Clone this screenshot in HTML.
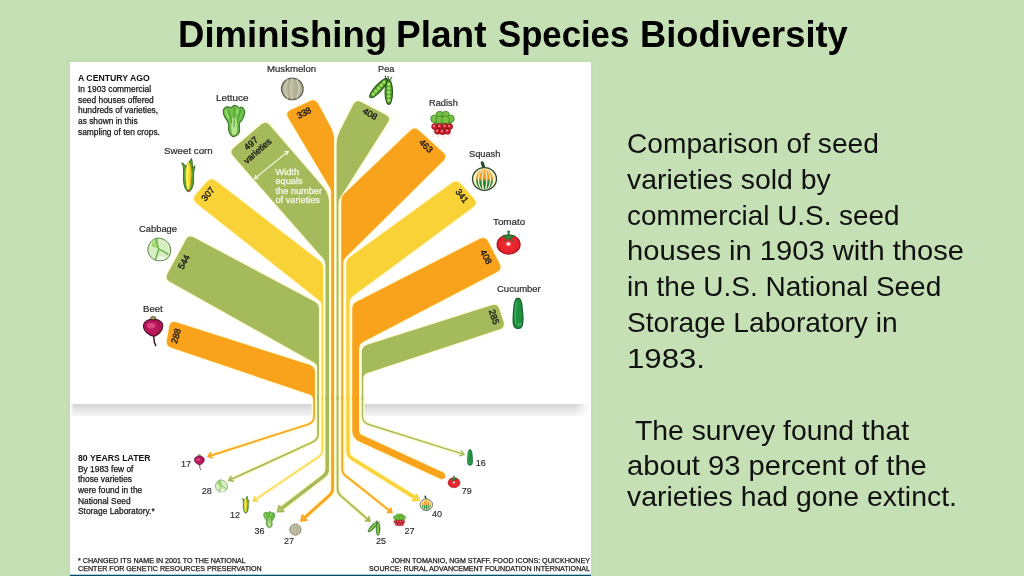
<!DOCTYPE html>
<html lang="en"><head><meta charset="utf-8"><title>Diminishing Plant Species Biodiversity</title>
<style>
html,body{margin:0;padding:0;}
body{width:1024px;height:576px;overflow:hidden;background:#C5E0B4;font-family:"Liberation Sans",sans-serif;}
#slide{position:relative;width:1024px;height:576px;overflow:hidden;background:#C5E0B4;}
#title{position:absolute;left:0;top:0;width:1024px;margin:0;font-size:36px;line-height:36px;font-weight:bold;color:#000;white-space:nowrap;}
#title span{position:absolute;top:17px;transform-origin:0 0;display:inline-block;}
#panel{position:absolute;left:70px;top:62px;width:521px;height:514px;background:#fff;box-shadow:0 0 0 4px #c1dfb0;}
#horizon{position:absolute;left:70px;top:403.6px;width:521px;height:12px;background:linear-gradient(to right,#fff 0,rgba(255,255,255,0) 0.8%,rgba(255,255,255,0) 96.8%,rgba(255,255,255,.75) 98.8%,#fff 100%),linear-gradient(to bottom,#d4d4d4 0%,#d6d6d6 8%,#e2e2e2 40%,#eeeeee 75%,#f5f5f8 100%);}
#baseline{position:absolute;left:70px;top:574px;width:521px;height:2px;background:linear-gradient(to bottom,#9fd0e0 0,#9fd0e0 1px,#0b4a5a 1px,#0b4a5a 2px);}
#chart{position:absolute;left:0;top:0;}
.t{position:absolute;white-space:nowrap;color:#222;line-height:1;}
.lab{font-size:8.8px;color:#2a2a2a;-webkit-text-stroke:0.2px #333;}
.num{font-size:9px;color:#111;-webkit-text-stroke:0.35px #1a1a1a;}
.body{font-size:8.4px;line-height:10.7px;color:#111;-webkit-text-stroke:0.25px #222;}
.hd{font-weight:bold;font-size:8.7px;color:#111;}
.foot{font-size:7.13px;line-height:8px;color:#1a1a1a;-webkit-text-stroke:0.25px #222;}
.rt{position:absolute;font-size:28.5px;line-height:28.5px;color:#111;white-space:pre;transform-origin:0 0;}
.sm{font-size:9px;color:#2a2a2a;-webkit-text-stroke:0.15px #333;}
.wid{font-size:9.2px;line-height:9.5px;color:#F8F9EA;-webkit-text-stroke:0.25px #F8F9EA;}

</style></head>
<body>
<div id="slide">
<h1 id="title"><span style="left:177.6px;transform:scaleX(1.0149);">Diminishing</span> <span style="left:396.2px;transform:scaleX(1.0279);">Plant</span> <span style="left:498.4px;transform:scaleX(0.9639);">Species</span> <span style="left:639.9px;transform:scaleX(1.0083);">Biodiversity</span></h1>
<div id="panel"></div>
<div id="horizon"></div>
<svg id="chart" width="1024" height="576" viewBox="0 0 1024 576">
<path d="M176.22 322.32 L309.33 364.81 Q314.90 366.58 314.90 372.43 L314.90 400.00 L313.20 400.00 L313.20 400.00 Q313.20 395.69 309.12 394.31 L171.48 347.72 Q165.80 345.80 166.90 339.90 L169.40 326.40 Q170.50 320.50 176.22 322.32 Z" fill="none" stroke="#FFFAD2" stroke-width="2.4" stroke-linejoin="round"/>
<path d="M193.90 237.52 L314.76 301.78 Q319.00 304.03 319.00 308.84 L319.00 400.00 L317.20 400.00 L317.20 367.84 Q317.20 364.32 314.14 362.60 L170.03 281.74 Q164.80 278.80 167.65 273.52 L185.75 239.98 Q188.60 234.70 193.90 237.52 Z" fill="none" stroke="#FFFAD2" stroke-width="2.4" stroke-linejoin="round"/>
<path d="M215.55 180.86 L319.88 261.20 Q323.00 263.61 323.00 267.54 L323.00 400.00 L321.70 400.00 L321.70 305.26 Q321.70 302.36 319.43 300.56 L196.50 203.13 Q191.80 199.40 195.70 194.84 L206.90 181.76 Q210.80 177.20 215.55 180.86 Z" fill="none" stroke="#FFFAD2" stroke-width="2.4" stroke-linejoin="round"/>
<path d="M269.72 125.14 L323.17 187.06 Q329.00 193.82 329.00 202.74 L329.00 400.00 L325.50 400.00 L325.50 264.87 Q325.50 261.10 323.01 258.27 L233.26 156.11 Q229.30 151.60 233.87 147.72 L261.23 124.48 Q265.80 120.60 269.72 125.14 Z" fill="none" stroke="#FFFAD2" stroke-width="2.4" stroke-linejoin="round"/>
<path d="M318.06 103.87 L330.61 126.98 Q334.00 133.23 334.00 140.34 L334.00 400.00 L331.20 400.00 L331.20 192.52 Q331.20 189.77 329.79 187.40 L288.27 117.75 Q285.20 112.60 290.64 110.06 L309.76 101.14 Q315.20 98.60 318.06 103.87 Z" fill="none" stroke="#FFFAD2" stroke-width="2.4" stroke-linejoin="round"/>
<path d="M353.28 104.75 L339.65 131.49 Q336.60 137.47 336.60 144.20 L336.60 400.00 L338.50 400.00 L338.50 203.13 Q338.50 200.23 340.06 197.77 L387.79 122.57 Q391.00 117.50 385.67 114.74 L361.33 102.16 Q356.00 99.40 353.28 104.75 Z" fill="none" stroke="#FFFAD2" stroke-width="2.4" stroke-linejoin="round"/>
<path d="M410.17 130.65 L343.76 194.33 Q341.30 196.70 341.30 200.11 L341.30 400.00 L343.10 400.00 L343.10 263.15 Q343.10 259.81 345.47 257.46 L443.24 160.72 Q447.50 156.50 443.06 152.46 L418.94 130.54 Q414.50 126.50 410.17 130.65 Z" fill="none" stroke="#FFFAD2" stroke-width="2.4" stroke-linejoin="round"/>
<path d="M451.95 183.03 L349.60 257.39 Q346.30 259.78 346.30 263.86 L346.30 400.00 L349.60 400.00 L349.60 302.54 Q349.60 298.51 352.84 296.11 L473.18 207.07 Q478.00 203.50 474.03 199.00 L460.77 184.00 Q456.80 179.50 451.95 183.03 Z" fill="none" stroke="#FFFAD2" stroke-width="2.4" stroke-linejoin="round"/>
<path d="M479.95 238.82 L356.62 301.67 Q352.25 303.89 352.25 308.79 L352.25 400.00 L359.00 400.00 L359.00 348.96 Q359.00 344.12 363.29 341.87 L496.98 271.98 Q502.30 269.20 499.56 263.86 L488.04 241.44 Q485.30 236.10 479.95 238.82 Z" fill="none" stroke="#FFFAD2" stroke-width="2.4" stroke-linejoin="round"/>
<path d="M491.68 305.31 L367.38 344.74 Q361.80 346.51 361.80 352.37 L361.80 400.00 L363.20 400.00 L363.20 378.60 Q363.20 374.25 367.33 372.90 L499.70 329.37 Q505.40 327.50 503.50 321.81 L499.30 309.19 Q497.40 303.50 491.68 305.31 Z" fill="none" stroke="#FFFAD2" stroke-width="2.4" stroke-linejoin="round"/>
<path d="M314.05 396.00 L314.05 415.93 Q314.05 422.50 307.79 424.50 L209.11 456.09" fill="none" stroke="#FFFAD2" stroke-width="4.70"/>
<path d="M318.10 396.00 L318.10 433.82 Q318.10 439.60 312.84 442.00 L229.73 480.00" fill="none" stroke="#FFFAD2" stroke-width="4.80"/>
<path d="M322.35 396.00 L322.35 449.52 Q322.35 454.30 318.39 456.98 L254.24 500.32" fill="none" stroke="#FFFAD2" stroke-width="4.30"/>
<path d="M327.25 396.00 L327.25 469.05 Q327.25 473.50 323.72 476.20 L280.22 509.46" fill="none" stroke="#FFFAD2" stroke-width="6.50"/>
<path d="M332.60 396.00 L332.60 488.57 Q332.60 492.60 329.60 495.28 L303.73 518.42" fill="none" stroke="#FFFAD2" stroke-width="5.80"/>
<path d="M337.55 396.00 L337.55 488.82 Q337.55 492.90 340.62 495.59 L369.00 520.43" fill="none" stroke="#FFFAD2" stroke-width="4.90"/>
<path d="M342.20 396.00 L342.20 468.66 Q342.20 473.00 345.60 475.70 L390.93 511.76" fill="none" stroke="#FFFAD2" stroke-width="4.80"/>
<path d="M347.95 396.00 L347.95 451.00 Q347.95 456.00 352.20 458.64 L415.95 498.26" fill="none" stroke="#FFFAD2" stroke-width="6.30"/>
<path d="M355.62 396.00 L355.62 430.24 Q355.62 436.00 360.86 438.41 L443.37 476.39" fill="none" stroke="#FFFAD2" stroke-width="9.75"/>
<path d="M362.50 396.00 L362.50 415.90 Q362.50 422.50 368.80 424.48 L463.01 454.11" fill="none" stroke="#FFFAD2" stroke-width="4.40"/>
<path d="M176.22 322.32 L309.33 364.81 Q314.90 366.58 314.90 372.43 L314.90 400.00 L313.20 400.00 L313.20 400.00 Q313.20 395.69 309.12 394.31 L171.48 347.72 Q165.80 345.80 166.90 339.90 L169.40 326.40 Q170.50 320.50 176.22 322.32 Z" fill="#F9A21C"/>
<path d="M193.90 237.52 L314.76 301.78 Q319.00 304.03 319.00 308.84 L319.00 400.00 L317.20 400.00 L317.20 367.84 Q317.20 364.32 314.14 362.60 L170.03 281.74 Q164.80 278.80 167.65 273.52 L185.75 239.98 Q188.60 234.70 193.90 237.52 Z" fill="#A5BA5B"/>
<path d="M215.55 180.86 L319.88 261.20 Q323.00 263.61 323.00 267.54 L323.00 400.00 L321.70 400.00 L321.70 305.26 Q321.70 302.36 319.43 300.56 L196.50 203.13 Q191.80 199.40 195.70 194.84 L206.90 181.76 Q210.80 177.20 215.55 180.86 Z" fill="#F8D237"/>
<path d="M269.72 125.14 L323.17 187.06 Q329.00 193.82 329.00 202.74 L329.00 400.00 L325.50 400.00 L325.50 264.87 Q325.50 261.10 323.01 258.27 L233.26 156.11 Q229.30 151.60 233.87 147.72 L261.23 124.48 Q265.80 120.60 269.72 125.14 Z" fill="#A5BA5B"/>
<path d="M318.06 103.87 L330.61 126.98 Q334.00 133.23 334.00 140.34 L334.00 400.00 L331.20 400.00 L331.20 192.52 Q331.20 189.77 329.79 187.40 L288.27 117.75 Q285.20 112.60 290.64 110.06 L309.76 101.14 Q315.20 98.60 318.06 103.87 Z" fill="#F9A21C"/>
<path d="M353.28 104.75 L339.65 131.49 Q336.60 137.47 336.60 144.20 L336.60 400.00 L338.50 400.00 L338.50 203.13 Q338.50 200.23 340.06 197.77 L387.79 122.57 Q391.00 117.50 385.67 114.74 L361.33 102.16 Q356.00 99.40 353.28 104.75 Z" fill="#A5BA5B"/>
<path d="M410.17 130.65 L343.76 194.33 Q341.30 196.70 341.30 200.11 L341.30 400.00 L343.10 400.00 L343.10 263.15 Q343.10 259.81 345.47 257.46 L443.24 160.72 Q447.50 156.50 443.06 152.46 L418.94 130.54 Q414.50 126.50 410.17 130.65 Z" fill="#F9A21C"/>
<path d="M451.95 183.03 L349.60 257.39 Q346.30 259.78 346.30 263.86 L346.30 400.00 L349.60 400.00 L349.60 302.54 Q349.60 298.51 352.84 296.11 L473.18 207.07 Q478.00 203.50 474.03 199.00 L460.77 184.00 Q456.80 179.50 451.95 183.03 Z" fill="#F8D237"/>
<path d="M479.95 238.82 L356.62 301.67 Q352.25 303.89 352.25 308.79 L352.25 400.00 L359.00 400.00 L359.00 348.96 Q359.00 344.12 363.29 341.87 L496.98 271.98 Q502.30 269.20 499.56 263.86 L488.04 241.44 Q485.30 236.10 479.95 238.82 Z" fill="#F9A21C"/>
<path d="M491.68 305.31 L367.38 344.74 Q361.80 346.51 361.80 352.37 L361.80 400.00 L363.20 400.00 L363.20 378.60 Q363.20 374.25 367.33 372.90 L499.70 329.37 Q505.40 327.50 503.50 321.81 L499.30 309.19 Q497.40 303.50 491.68 305.31 Z" fill="#A5BA5B"/>
<path d="M314.05 396.00 L314.05 415.93 Q314.05 422.50 307.79 424.50 L209.11 456.09" fill="none" stroke="#F9A21C" stroke-width="1.70"/>
<path d="M212.90 457.96 L208.15 456.39 L211.11 452.36" fill="none" stroke="#F9A21C" stroke-width="1.70" stroke-linejoin="miter" stroke-miterlimit="6"/>
<path d="M318.10 396.00 L318.10 433.82 Q318.10 439.60 312.84 442.00 L229.73 480.00" fill="none" stroke="#A5BA5B" stroke-width="1.80"/>
<path d="M233.72 481.41 L228.82 480.42 L231.28 476.06" fill="none" stroke="#A5BA5B" stroke-width="1.80" stroke-linejoin="miter" stroke-miterlimit="6"/>
<path d="M322.35 396.00 L322.35 449.52 Q322.35 454.30 318.39 456.98 L254.24 500.32" fill="none" stroke="#F8D237" stroke-width="1.30"/>
<path d="M258.40 501.05 L253.41 500.88 L255.11 496.18" fill="none" stroke="#F8D237" stroke-width="1.50" stroke-linejoin="miter" stroke-miterlimit="6"/>
<path d="M327.25 396.00 L327.25 469.05 Q327.25 473.50 323.72 476.20 L280.22 509.46" fill="none" stroke="#A5BA5B" stroke-width="3.50"/>
<path d="M284.34 511.13 L277.84 511.29 L279.70 505.06" fill="none" stroke="#A5BA5B" stroke-width="2.30" stroke-linejoin="miter" stroke-miterlimit="6"/>
<path d="M332.60 396.00 L332.60 488.57 Q332.60 492.60 329.60 495.28 L303.73 518.42" fill="none" stroke="#F9A21C" stroke-width="2.80"/>
<path d="M307.46 519.81 L301.49 520.42 L302.76 514.55" fill="none" stroke="#F9A21C" stroke-width="2.30" stroke-linejoin="miter" stroke-miterlimit="6"/>
<path d="M337.55 396.00 L337.55 488.82 Q337.55 492.90 340.62 495.59 L369.00 520.43" fill="none" stroke="#A5BA5B" stroke-width="1.90"/>
<path d="M368.64 516.22 L369.75 521.09 L364.77 520.64" fill="none" stroke="#A5BA5B" stroke-width="1.90" stroke-linejoin="miter" stroke-miterlimit="6"/>
<path d="M342.20 396.00 L342.20 468.66 Q342.20 473.00 345.60 475.70 L390.93 511.76" fill="none" stroke="#F9A21C" stroke-width="1.80"/>
<path d="M390.38 507.56 L391.72 512.38 L386.72 512.16" fill="none" stroke="#F9A21C" stroke-width="1.80" stroke-linejoin="miter" stroke-miterlimit="6"/>
<path d="M347.95 396.00 L347.95 451.00 Q347.95 456.00 352.20 458.64 L415.95 498.26" fill="none" stroke="#F8D237" stroke-width="3.30"/>
<path d="M416.05 493.82 L418.50 499.84 L412.01 500.31" fill="none" stroke="#F8D237" stroke-width="2.30" stroke-linejoin="miter" stroke-miterlimit="6"/>
<path d="M355.62 396.00 L355.62 430.24 Q355.62 436.00 360.86 438.41 L443.37 476.39" fill="none" stroke="#F9A21C" stroke-width="6.75"/>
<path d="M444.70 473.17 L445.55 477.39 L441.80 479.49 Z" fill="#F9A21C"/>
<path d="M362.50 396.00 L362.50 415.90 Q362.50 422.50 368.80 424.48 L463.01 454.11" fill="none" stroke="#A5BA5B" stroke-width="1.40"/>
<path d="M460.99 450.39 L463.96 454.41 L459.22 456.00" fill="none" stroke="#A5BA5B" stroke-width="1.50" stroke-linejoin="miter" stroke-miterlimit="6"/>
<g transform="translate(292.30 88.90) scale(1.000)"><circle r="10.8" fill="#B8B69B" stroke="#5F6552" stroke-width="1.3"/><path d="M-4.5 -9.5C-7.5 -3 -7.5 4 -4.5 9.5M0 -10.5C-1.5 -3 -1.5 4 0 10.5M4.5 -9.5C7.5 -3 7.5 4 4.5 9.5" fill="none" stroke="#C9C7AF" stroke-width="1.6"/><path d="M-2.3 -10C-4.6 -3 -4.6 4 -2.3 10M2.3 -10C4.6 -3 4.6 4 2.3 10" fill="none" stroke="#A9A78E" stroke-width=".8"/></g>
<g transform="translate(233.80 121.00) scale(1.000)"><path d="M-10.40 -9.20C-10.40 -11.77 -10.90 -11.07 -9.40 -12.70C-7.90 -14.33 -8.10 -13.90 -5.90 -14.10C-3.70 -14.30 -4.87 -12.87 -2.80 -13.30C-0.73 -13.73 -1.67 -14.92 0.30 -15.40C2.27 -15.88 1.47 -15.55 3.10 -14.75C4.73 -13.95 3.57 -13.35 5.20 -13.00C6.83 -12.65 6.27 -14.50 8.00 -13.70C9.73 -12.90 9.60 -13.03 10.40 -10.60C11.20 -8.17 11.20 -9.63 10.40 -6.40C9.60 -3.17 9.50 -3.67 8.00 -0.90C6.50 1.87 6.73 -0.67 5.90 1.90C5.07 4.47 5.73 3.57 5.50 6.80C5.27 10.03 6.70 8.83 5.20 11.60C3.70 14.37 3.53 14.17 1.00 15.10C-1.53 16.03 -0.43 16.23 -2.40 14.40C-4.37 12.57 -3.97 13.07 -4.90 9.60C-5.83 6.13 -4.63 7.27 -5.20 4.00C-5.77 0.73 -5.20 2.80 -6.60 -0.20C-8.00 -3.20 -8.13 -2.00 -9.40 -5.00C-10.67 -8.00 -10.40 -6.63 -10.40 -9.20Z" fill="#6EC24A" stroke="#3A7526" stroke-width="1.2" stroke-linejoin="round"/><path d="M-1.8 -2C-2.6 3 -3 9 -1.6 13C-.6 14.2 1.6 14.2 2.6 12.8C3.8 9 3.2 3 2.6 -2C1.6 -5 -.8 -5 -1.8 -2Z" fill="#B7E28E"/><path d="M1.2 -13C0 -8 .4 -3 .4 6M-5.8 -11.5C-4.4 -7 -2.8 -4 -2.2 2M7 -11.5C5.6 -7 4.2 -3 3.6 2" fill="none" stroke="#46932D" stroke-width=".9"/><path d="M-7.6 -11C-8 -8 -6.4 -5 -4.8 -2M4.2 -13C3.4 -11 3 -9 3 -7" fill="none" stroke="#A5DE78" stroke-width="1.4"/></g>
<g transform="translate(188.50 175.30) scale(1.000)"><path d="M-.5 16.3C-4.5 14 -5.5 6 -5 -2C-5 -6 -4.5 -9 -6.8 -12.5C-4 -11.5 -3 -9.5 -2.5 -8C-1 -12 1.5 -14.5 3 -16.7C4 -13 3.8 -10 4 -7C4.8 -8 5.6 -9 6.5 -9.5C6 -6 5 -4 5 0C5.5 7 4.5 14 .8 16.3Z" fill="#5CA42E" stroke="#2F5F1C" stroke-width=".9"/><path d="M0 -13.5C3.6 -9 3.6 2 1.2 13C.2 14.6 -1 14.6 -1.6 13C-3.6 2 -3.6 -8 0 -13.5Z" fill="#F3E02A"/><path d="M-.6 -10C-1.8 -3 -1.6 5 -.4 12" fill="none" stroke="#FBF29A" stroke-width="1.3"/><path d="M1.2 13C2.6 5 3 -3 1.5 -11" fill="none" stroke="#C9A91A" stroke-width=".7"/><ellipse cx="0" cy="15.6" rx="1.6" ry="1" fill="#B5523A"/></g>
<g transform="translate(159.30 249.50) scale(1.000)"><path d="M-2.5 -11.3C2 -11.8 7.5 -9.5 10 -5C12.3 -.5 11.8 5 8.5 8.5C5 11.5 -1 12 -5.5 10C-9.5 7.5 -12 3 -11.3 -1.5C-10.5 -6 -7 -10.5 -2.5 -11.3Z" fill="#D8EEC2" stroke="#557F3E" stroke-width="1.0"/><path d="M-2.6 -11C-6 -9.5 -8 -6 -7.5 -3C-5 -2.5 -2.5 -1.5 -.6 -.4C-1.5 -4 -2.3 -7.5 -2.6 -11Z" fill="#9FD672"/><path d="M-3.3 9.5C-1 6 3.5 5.5 7 8.8C4 11 -.5 11.3 -3.3 9.5Z" fill="#EEF8E2"/><path d="M-2.8 -11C-2.2 -6.5 -1.6 -3 -.5 -.4C3 1 6 2.6 8.6 4.8M-.5 -.4C-1.4 3 -2.8 6.2 -3.6 9.6" fill="none" stroke="#6AAE48" stroke-width="1.4" stroke-linecap="round"/></g>
<g transform="translate(153.20 328.00) scale(1.000)"><path d="M.6 7.8C.9 11.5 .4 14.5 2.6 17.6" fill="none" stroke="#3B0F22" stroke-width="1.4" stroke-linecap="round"/><ellipse cx="0" cy="-9.3" rx="2.8" ry="2.3" fill="#8E9C5C" stroke="#4E5A2C" stroke-width=".8"/><path d="M0 -8C4 -9.2 9.8 -7 9.6 -1.5C9.4 3.5 4 7.6 .5 8.3C-3.5 7.6 -9.5 3.5 -9.7 -1.5C-9.8 -7 -4 -9.2 0 -8Z" fill="#B8175A" stroke="#4A0E28" stroke-width="1.1"/><ellipse cx="-2" cy="-2.2" rx="4.2" ry="2.8" fill="#E4558B" opacity=".75"/><path d="M4 -6.5C7.5 -4 8 1 4.5 5" fill="none" stroke="#8E1243" stroke-width="1.3" opacity=".7"/></g>
<g transform="translate(387.90 79.50) scale(1.000)"><g transform="translate(-9.3 8.7) rotate(42.7)"><ellipse rx="3.5" ry="12.6" fill="#4F9A2C" stroke="#27551A" stroke-width="1.1"/><circle cx="0" cy="-8.0" r="1.7" fill="#A0DC5E"/><circle cx="0" cy="-4.0" r="1.7" fill="#A0DC5E"/><circle cx="0" cy="0.0" r="1.7" fill="#A0DC5E"/><circle cx="0" cy="4.0" r="1.7" fill="#A0DC5E"/><circle cx="0" cy="8.0" r="1.7" fill="#A0DC5E"/></g><g transform="translate(.9 12.7)"><ellipse rx="3.7" ry="12.3" fill="#4F9A2C" stroke="#27551A" stroke-width="1.1"/><circle cx="0" cy="-8.0" r="1.7" fill="#A0DC5E"/><circle cx="0" cy="-4.0" r="1.7" fill="#A0DC5E"/><circle cx="0" cy="0.0" r="1.7" fill="#A0DC5E"/><circle cx="0" cy="4.0" r="1.7" fill="#A0DC5E"/><circle cx="0" cy="8.0" r="1.7" fill="#A0DC5E"/></g><path d="M-1.5 0L-2.8 -4M.5 0L.2 -3.5M2 .5L4.2 -2.6" fill="none" stroke="#1F3F16" stroke-width="1"/></g>
<g transform="translate(442.50 124.00) scale(1.000)"><path d="M-8 4L-10 13M-3 8L-4 14M2 9L2.5 14.5M7 5L9.5 12M5 8L7 13" fill="none" stroke="#F3C9CC" stroke-width=".7"/><rect x="-9" y="-6" width="18" height="7" fill="#6DBB3E"/><circle cx="-2.9" cy="-9.0" r="3.7" fill="#77C243" stroke="#3F7F2A" stroke-width=".8"/><circle cx="3.2" cy="-9.0" r="3.7" fill="#77C243" stroke="#3F7F2A" stroke-width=".8"/><circle cx="-8.0" cy="-5.2" r="3.8" fill="#77C243" stroke="#3F7F2A" stroke-width=".8"/><circle cx="8.0" cy="-5.2" r="3.8" fill="#77C243" stroke="#3F7F2A" stroke-width=".8"/><circle cx="-2.7" cy="-4.2" r="3.9" fill="#77C243" stroke="#3F7F2A" stroke-width=".8"/><circle cx="3.0" cy="-4.2" r="3.9" fill="#77C243" stroke="#3F7F2A" stroke-width=".8"/><circle cx="-7.9" cy="2.6" r="2.9" fill="#D71E2C" stroke="#7E0F17" stroke-width=".8"/><circle cx="-8.5" cy="1.9" r="1" fill="#F79A9A"/><circle cx="-2.6" cy="2.4" r="2.9" fill="#D71E2C" stroke="#7E0F17" stroke-width=".8"/><circle cx="-3.2" cy="1.7" r="1" fill="#F79A9A"/><circle cx="2.6" cy="2.4" r="2.9" fill="#D71E2C" stroke="#7E0F17" stroke-width=".8"/><circle cx="2.0" cy="1.7" r="1" fill="#F79A9A"/><circle cx="7.2" cy="2.6" r="2.9" fill="#D71E2C" stroke="#7E0F17" stroke-width=".8"/><circle cx="6.6" cy="1.9" r="1" fill="#F79A9A"/><circle cx="-5.0" cy="7.3" r="2.9" fill="#D71E2C" stroke="#7E0F17" stroke-width=".8"/><circle cx="-5.6" cy="6.6" r="1" fill="#F79A9A"/><circle cx="0.0" cy="7.8" r="2.9" fill="#D71E2C" stroke="#7E0F17" stroke-width=".8"/><circle cx="-0.6" cy="7.1" r="1" fill="#F79A9A"/><circle cx="5.0" cy="7.3" r="2.9" fill="#D71E2C" stroke="#7E0F17" stroke-width=".8"/><circle cx="4.4" cy="6.6" r="1" fill="#F79A9A"/></g>
<g transform="translate(484.50 179.00) scale(1.000)"><path d="M-.3 -9.5C-.8 -12.5 -1.6 -14.5 -2.3 -16.3" fill="none" stroke="#1F4D2B" stroke-width="3" stroke-linecap="round"/><linearGradient id="sqa" x1="0" y1="0" x2="0" y2="1"><stop offset="0" stop-color="#F6A02A"/><stop offset=".45" stop-color="#F59A23"/><stop offset=".62" stop-color="#1E8A45"/><stop offset="1" stop-color="#176B35"/></linearGradient><ellipse rx="12" ry="11.3" fill="#F7F0C4"/><path d="M-2.3 -10.5C-10.4 -4 -10.4 5 -3.2 11C-8.0 5 -8.0 -4 -2.3 -10.5Z" fill="url(#sqa)"/><path d="M-1.2 -10.5C-6.7 -4 -6.7 5 -1.8 11C-3.3 5 -3.3 -4 -1.2 -10.5Z" fill="url(#sqa)"/><path d="M0.0 -10.5C-2.2 -4 -2.2 5 0.0 11C2.2 5 2.2 -4 0.0 -10.5Z" fill="url(#sqa)"/><path d="M1.2 -10.5C3.3 -4 3.3 5 1.8 11C6.7 5 6.7 -4 1.2 -10.5Z" fill="url(#sqa)"/><path d="M2.3 -10.5C8.0 -4 8.0 5 3.2 11C10.4 5 10.4 -4 2.3 -10.5Z" fill="url(#sqa)"/><ellipse rx="12" ry="11.3" fill="none" stroke="#2C4B2A" stroke-width="1.3"/></g>
<g transform="translate(508.60 244.50) scale(1.000)"><radialGradient id="tma" cx=".49" cy=".47" r=".5"><stop offset="0" stop-color="#fff"/><stop offset=".1" stop-color="#FFE2E2"/><stop offset=".26" stop-color="#EE2A33"/><stop offset="1" stop-color="#E31F29"/></radialGradient><ellipse rx="11.5" ry="9.7" fill="url(#tma)" stroke="#9E1219" stroke-width="1.1"/><path d="M0 -8.6L-1 -13.4L1 -13.4Z M0 -9.5L-6.5 -8.3L-2.2 -6.6L-4 -3L0 -6L4 -3L2.2 -6.6L6.5 -8.3Z" fill="#2E8B3A" stroke="#1E6A2A" stroke-width=".7" stroke-linejoin="round"/></g>
<g transform="translate(518.00 313.30) scale(1.000)"><path d="M0 -15.3C3 -15 4 -10 4.2 -5C5.2 2 5.5 9 4 13C2.5 16 -2.5 16 -4 13C-5.5 9 -5 2 -4.2 -5C-4 -10 -3 -15 0 -15.3Z" fill="#1F8E3E" stroke="#0F5A27" stroke-width="1.1"/><path d="M-1.5 -11C-2.8 -4 -3.2 4 -2 11" fill="none" stroke="#46B565" stroke-width="1.4" stroke-linecap="round" opacity=".8"/><path d="M.5 10L.8 13M2.3 9.5L2.2 12" fill="none" stroke="#7FD08F" stroke-width=".7"/></g>
<g transform="translate(295.40 529.60) scale(0.520)"><circle r="10.8" fill="#B8B69B" stroke="#5F6552" stroke-width="1.3"/><path d="M-4.5 -9.5C-7.5 -3 -7.5 4 -4.5 9.5M0 -10.5C-1.5 -3 -1.5 4 0 10.5M4.5 -9.5C7.5 -3 7.5 4 4.5 9.5" fill="none" stroke="#C9C7AF" stroke-width="1.6"/><path d="M-2.3 -10C-4.6 -3 -4.6 4 -2.3 10M2.3 -10C4.6 -3 4.6 4 2.3 10" fill="none" stroke="#A9A78E" stroke-width=".8"/></g>
<g transform="translate(269.20 519.70) scale(0.520)"><path d="M-10.40 -9.20C-10.40 -11.77 -10.90 -11.07 -9.40 -12.70C-7.90 -14.33 -8.10 -13.90 -5.90 -14.10C-3.70 -14.30 -4.87 -12.87 -2.80 -13.30C-0.73 -13.73 -1.67 -14.92 0.30 -15.40C2.27 -15.88 1.47 -15.55 3.10 -14.75C4.73 -13.95 3.57 -13.35 5.20 -13.00C6.83 -12.65 6.27 -14.50 8.00 -13.70C9.73 -12.90 9.60 -13.03 10.40 -10.60C11.20 -8.17 11.20 -9.63 10.40 -6.40C9.60 -3.17 9.50 -3.67 8.00 -0.90C6.50 1.87 6.73 -0.67 5.90 1.90C5.07 4.47 5.73 3.57 5.50 6.80C5.27 10.03 6.70 8.83 5.20 11.60C3.70 14.37 3.53 14.17 1.00 15.10C-1.53 16.03 -0.43 16.23 -2.40 14.40C-4.37 12.57 -3.97 13.07 -4.90 9.60C-5.83 6.13 -4.63 7.27 -5.20 4.00C-5.77 0.73 -5.20 2.80 -6.60 -0.20C-8.00 -3.20 -8.13 -2.00 -9.40 -5.00C-10.67 -8.00 -10.40 -6.63 -10.40 -9.20Z" fill="#6EC24A" stroke="#3A7526" stroke-width="1.2" stroke-linejoin="round"/><path d="M-1.8 -2C-2.6 3 -3 9 -1.6 13C-.6 14.2 1.6 14.2 2.6 12.8C3.8 9 3.2 3 2.6 -2C1.6 -5 -.8 -5 -1.8 -2Z" fill="#B7E28E"/><path d="M1.2 -13C0 -8 .4 -3 .4 6M-5.8 -11.5C-4.4 -7 -2.8 -4 -2.2 2M7 -11.5C5.6 -7 4.2 -3 3.6 2" fill="none" stroke="#46932D" stroke-width=".9"/><path d="M-7.6 -11C-8 -8 -6.4 -5 -4.8 -2M4.2 -13C3.4 -11 3 -9 3 -7" fill="none" stroke="#A5DE78" stroke-width="1.4"/></g>
<g transform="translate(245.75 504.70) scale(0.520)"><path d="M-.5 16.3C-4.5 14 -5.5 6 -5 -2C-5 -6 -4.5 -9 -6.8 -12.5C-4 -11.5 -3 -9.5 -2.5 -8C-1 -12 1.5 -14.5 3 -16.7C4 -13 3.8 -10 4 -7C4.8 -8 5.6 -9 6.5 -9.5C6 -6 5 -4 5 0C5.5 7 4.5 14 .8 16.3Z" fill="#5CA42E" stroke="#2F5F1C" stroke-width=".9"/><path d="M0 -13.5C3.6 -9 3.6 2 1.2 13C.2 14.6 -1 14.6 -1.6 13C-3.6 2 -3.6 -8 0 -13.5Z" fill="#F3E02A"/><path d="M-.6 -10C-1.8 -3 -1.6 5 -.4 12" fill="none" stroke="#FBF29A" stroke-width="1.3"/><path d="M1.2 13C2.6 5 3 -3 1.5 -11" fill="none" stroke="#C9A91A" stroke-width=".7"/><ellipse cx="0" cy="15.6" rx="1.6" ry="1" fill="#B5523A"/></g>
<g transform="translate(221.40 486.00) scale(0.530)"><path d="M-2.5 -11.3C2 -11.8 7.5 -9.5 10 -5C12.3 -.5 11.8 5 8.5 8.5C5 11.5 -1 12 -5.5 10C-9.5 7.5 -12 3 -11.3 -1.5C-10.5 -6 -7 -10.5 -2.5 -11.3Z" fill="#D8EEC2" stroke="#557F3E" stroke-width="1.0"/><path d="M-2.6 -11C-6 -9.5 -8 -6 -7.5 -3C-5 -2.5 -2.5 -1.5 -.6 -.4C-1.5 -4 -2.3 -7.5 -2.6 -11Z" fill="#9FD672"/><path d="M-3.3 9.5C-1 6 3.5 5.5 7 8.8C4 11 -.5 11.3 -3.3 9.5Z" fill="#EEF8E2"/><path d="M-2.8 -11C-2.2 -6.5 -1.6 -3 -.5 -.4C3 1 6 2.6 8.6 4.8M-.5 -.4C-1.4 3 -2.8 6.2 -3.6 9.6" fill="none" stroke="#6AAE48" stroke-width="1.4" stroke-linecap="round"/></g>
<g transform="translate(199.40 460.60) scale(0.520)"><path d="M.6 7.8C.9 11.5 .4 14.5 2.6 17.6" fill="none" stroke="#3B0F22" stroke-width="1.4" stroke-linecap="round"/><ellipse cx="0" cy="-9.3" rx="2.8" ry="2.3" fill="#8E9C5C" stroke="#4E5A2C" stroke-width=".8"/><path d="M0 -8C4 -9.2 9.8 -7 9.6 -1.5C9.4 3.5 4 7.6 .5 8.3C-3.5 7.6 -9.5 3.5 -9.7 -1.5C-9.8 -7 -4 -9.2 0 -8Z" fill="#B8175A" stroke="#4A0E28" stroke-width="1.1"/><ellipse cx="-2" cy="-2.2" rx="4.2" ry="2.8" fill="#E4558B" opacity=".75"/><path d="M4 -6.5C7.5 -4 8 1 4.5 5" fill="none" stroke="#8E1243" stroke-width="1.3" opacity=".7"/></g>
<g transform="translate(377.60 522.40) scale(0.520)"><g transform="translate(-9.3 8.7) rotate(42.7)"><ellipse rx="3.5" ry="12.6" fill="#4F9A2C" stroke="#27551A" stroke-width="1.1"/><circle cx="0" cy="-8.0" r="1.7" fill="#A0DC5E"/><circle cx="0" cy="-4.0" r="1.7" fill="#A0DC5E"/><circle cx="0" cy="0.0" r="1.7" fill="#A0DC5E"/><circle cx="0" cy="4.0" r="1.7" fill="#A0DC5E"/><circle cx="0" cy="8.0" r="1.7" fill="#A0DC5E"/></g><g transform="translate(.9 12.7)"><ellipse rx="3.7" ry="12.3" fill="#4F9A2C" stroke="#27551A" stroke-width="1.1"/><circle cx="0" cy="-8.0" r="1.7" fill="#A0DC5E"/><circle cx="0" cy="-4.0" r="1.7" fill="#A0DC5E"/><circle cx="0" cy="0.0" r="1.7" fill="#A0DC5E"/><circle cx="0" cy="4.0" r="1.7" fill="#A0DC5E"/><circle cx="0" cy="8.0" r="1.7" fill="#A0DC5E"/></g><path d="M-1.5 0L-2.8 -4M.5 0L.2 -3.5M2 .5L4.2 -2.6" fill="none" stroke="#1F3F16" stroke-width="1"/></g>
<g transform="translate(399.50 520.30) scale(0.520)"><path d="M-8 4L-10 13M-3 8L-4 14M2 9L2.5 14.5M7 5L9.5 12M5 8L7 13" fill="none" stroke="#F3C9CC" stroke-width=".7"/><rect x="-9" y="-6" width="18" height="7" fill="#6DBB3E"/><circle cx="-2.9" cy="-9.0" r="3.7" fill="#77C243" stroke="#3F7F2A" stroke-width=".8"/><circle cx="3.2" cy="-9.0" r="3.7" fill="#77C243" stroke="#3F7F2A" stroke-width=".8"/><circle cx="-8.0" cy="-5.2" r="3.8" fill="#77C243" stroke="#3F7F2A" stroke-width=".8"/><circle cx="8.0" cy="-5.2" r="3.8" fill="#77C243" stroke="#3F7F2A" stroke-width=".8"/><circle cx="-2.7" cy="-4.2" r="3.9" fill="#77C243" stroke="#3F7F2A" stroke-width=".8"/><circle cx="3.0" cy="-4.2" r="3.9" fill="#77C243" stroke="#3F7F2A" stroke-width=".8"/><circle cx="-7.9" cy="2.6" r="2.9" fill="#D71E2C" stroke="#7E0F17" stroke-width=".8"/><circle cx="-8.5" cy="1.9" r="1" fill="#F79A9A"/><circle cx="-2.6" cy="2.4" r="2.9" fill="#D71E2C" stroke="#7E0F17" stroke-width=".8"/><circle cx="-3.2" cy="1.7" r="1" fill="#F79A9A"/><circle cx="2.6" cy="2.4" r="2.9" fill="#D71E2C" stroke="#7E0F17" stroke-width=".8"/><circle cx="2.0" cy="1.7" r="1" fill="#F79A9A"/><circle cx="7.2" cy="2.6" r="2.9" fill="#D71E2C" stroke="#7E0F17" stroke-width=".8"/><circle cx="6.6" cy="1.9" r="1" fill="#F79A9A"/><circle cx="-5.0" cy="7.3" r="2.9" fill="#D71E2C" stroke="#7E0F17" stroke-width=".8"/><circle cx="-5.6" cy="6.6" r="1" fill="#F79A9A"/><circle cx="0.0" cy="7.8" r="2.9" fill="#D71E2C" stroke="#7E0F17" stroke-width=".8"/><circle cx="-0.6" cy="7.1" r="1" fill="#F79A9A"/><circle cx="5.0" cy="7.3" r="2.9" fill="#D71E2C" stroke="#7E0F17" stroke-width=".8"/><circle cx="4.4" cy="6.6" r="1" fill="#F79A9A"/></g>
<g transform="translate(426.30 504.70) scale(0.520)"><path d="M-.3 -9.5C-.8 -12.5 -1.6 -14.5 -2.3 -16.3" fill="none" stroke="#1F4D2B" stroke-width="3" stroke-linecap="round"/><linearGradient id="sqb" x1="0" y1="0" x2="0" y2="1"><stop offset="0" stop-color="#F6A02A"/><stop offset=".45" stop-color="#F59A23"/><stop offset=".62" stop-color="#1E8A45"/><stop offset="1" stop-color="#176B35"/></linearGradient><ellipse rx="12" ry="11.3" fill="#F7F0C4"/><path d="M-2.3 -10.5C-10.4 -4 -10.4 5 -3.2 11C-8.0 5 -8.0 -4 -2.3 -10.5Z" fill="url(#sqb)"/><path d="M-1.2 -10.5C-6.7 -4 -6.7 5 -1.8 11C-3.3 5 -3.3 -4 -1.2 -10.5Z" fill="url(#sqb)"/><path d="M0.0 -10.5C-2.2 -4 -2.2 5 0.0 11C2.2 5 2.2 -4 0.0 -10.5Z" fill="url(#sqb)"/><path d="M1.2 -10.5C3.3 -4 3.3 5 1.8 11C6.7 5 6.7 -4 1.2 -10.5Z" fill="url(#sqb)"/><path d="M2.3 -10.5C8.0 -4 8.0 5 3.2 11C10.4 5 10.4 -4 2.3 -10.5Z" fill="url(#sqb)"/><ellipse rx="12" ry="11.3" fill="none" stroke="#2C4B2A" stroke-width="1.3"/></g>
<g transform="translate(454.00 482.75) scale(0.520)"><radialGradient id="tmb" cx=".49" cy=".47" r=".5"><stop offset="0" stop-color="#fff"/><stop offset=".1" stop-color="#FFE2E2"/><stop offset=".26" stop-color="#EE2A33"/><stop offset="1" stop-color="#E31F29"/></radialGradient><ellipse rx="11.5" ry="9.7" fill="url(#tmb)" stroke="#9E1219" stroke-width="1.1"/><path d="M0 -8.6L-1 -13.4L1 -13.4Z M0 -9.5L-6.5 -8.3L-2.2 -6.6L-4 -3L0 -6L4 -3L2.2 -6.6L6.5 -8.3Z" fill="#2E8B3A" stroke="#1E6A2A" stroke-width=".7" stroke-linejoin="round"/></g>
<g transform="translate(470.00 457.40) scale(0.520)"><path d="M0 -15.3C3 -15 4 -10 4.2 -5C5.2 2 5.5 9 4 13C2.5 16 -2.5 16 -4 13C-5.5 9 -5 2 -4.2 -5C-4 -10 -3 -15 0 -15.3Z" fill="#1F8E3E" stroke="#0F5A27" stroke-width="1.1"/><path d="M-1.5 -11C-2.8 -4 -3.2 4 -2 11" fill="none" stroke="#46B565" stroke-width="1.4" stroke-linecap="round" opacity=".8"/><path d="M.5 10L.8 13M2.3 9.5L2.2 12" fill="none" stroke="#7FD08F" stroke-width=".7"/></g>
<path d="M254.50 178.80 L288.30 151.20 M284.13 151.73 L288.30 151.20 L286.95 155.18 M258.67 178.27 L254.50 178.80 L255.85 174.82" fill="none" stroke="#F1F4DA" stroke-width="1.2" stroke-linejoin="miter"/>
</svg>
<div class="t hd" style="left:78px;top:74px;">A CENTURY AGO</div>
<div class="t body" style="left:78px;top:84px;">In 1903 commercial<br>seed houses offered<br>hundreds of varieties,<br>as shown in this<br>sampling of ten crops.</div>
<div class="t hd" style="left:78px;top:454px;">80 YEARS LATER</div>
<div class="t body" style="left:78px;top:463.5px;">By 1983 few of<br>those varieties<br>were found in the<br>National Seed<br>Storage Laboratory.*</div>
<div class="t foot" style="left:78px;top:557px;">* CHANGED ITS NAME IN 2001 TO THE NATIONAL<br>CENTER FOR GENETIC RESOURCES PRESERVATION</div>
<div class="t foot" style="right:434px;top:557px;text-align:right;">JOHN TOMANIO, NGM STAFF. FOOD ICONS: QUICKHONEY<br>SOURCE: RURAL ADVANCEMENT FOUNDATION INTERNATIONAL</div>
<div class="rt" style="left:627.0px;top:129.3px;transform:scaleX(0.9874);">Comparison of seed</div>
<div class="rt" style="left:627.0px;top:165.0px;transform:scaleX(0.9971);">varieties sold by</div>
<div class="rt" style="left:627.0px;top:200.7px;transform:scaleX(0.9777);">commercial U.S. seed</div>
<div class="rt" style="left:626.9px;top:236.4px;transform:scaleX(1.0227);">houses in 1903 with those</div>
<div class="rt" style="left:627.0px;top:272.1px;transform:scaleX(0.9819);">in the U.S. National Seed</div>
<div class="rt" style="left:627.0px;top:307.8px;transform:scaleX(0.9871);">Storage Laboratory in</div>
<div class="rt" style="left:626.8px;top:343.5px;transform:scaleX(1.0935);">1983.</div>
<div class="rt" style="left:634.8px;top:416.1px;transform:scaleX(0.9943);">The survey found that</div>
<div class="rt" style="left:626.9px;top:451.1px;transform:scaleX(1.0228);">about 93 percent of the</div>
<div class="rt" style="left:627.0px;top:482.4px;transform:scaleX(0.9965);">varieties had gone extinct.</div><div class="t lab" style="left:267.4px;top:65.3px;transform:scaleX(1.094);transform-origin:0 0;">Muskmelon</div>
<div class="t lab" style="left:377.6px;top:64.9px;transform:scaleX(1.048);transform-origin:0 0;">Pea</div>
<div class="t lab" style="left:216.3px;top:93.9px;transform:scaleX(1.130);transform-origin:0 0;">Lettuce</div>
<div class="t lab" style="left:429.1px;top:98.6px;transform:scaleX(1.055);transform-origin:0 0;">Radish</div>
<div class="t lab" style="left:163.8px;top:147.1px;transform:scaleX(1.108);transform-origin:0 0;">Sweet corn</div>
<div class="t lab" style="left:469.1px;top:149.9px;transform:scaleX(1.052);transform-origin:0 0;">Squash</div>
<div class="t lab" style="left:139.2px;top:224.7px;transform:scaleX(1.065);transform-origin:0 0;">Cabbage</div>
<div class="t lab" style="left:493.3px;top:218.1px;transform:scaleX(1.116);transform-origin:0 0;">Tomato</div>
<div class="t lab" style="left:143.1px;top:304.8px;transform:scaleX(1.093);transform-origin:0 0;">Beet</div>
<div class="t lab" style="left:496.8px;top:285.0px;transform:scaleX(1.079);transform-origin:0 0;">Cucumber</div>
<div class="t num" style="left:283.5px;top:106.5px;width:40px;height:12px;line-height:12px;text-align:center;font-size:9px;transform:rotate(-27deg);">338</div>
<div class="t num" style="left:350.0px;top:107.5px;width:40px;height:12px;line-height:12px;text-align:center;font-size:9px;transform:rotate(30deg);">408</div>
<div class="t num" style="left:405.5px;top:140.0px;width:40px;height:12px;line-height:12px;text-align:center;font-size:9px;transform:rotate(44deg);">463</div>
<div class="t num" style="left:442.0px;top:189.5px;width:40px;height:12px;line-height:12px;text-align:center;font-size:9px;transform:rotate(53deg);">341</div>
<div class="t num" style="left:466.0px;top:250.5px;width:40px;height:12px;line-height:12px;text-align:center;font-size:9px;transform:rotate(62deg);">408</div>
<div class="t num" style="left:474.2px;top:310.7px;width:40px;height:12px;line-height:12px;text-align:center;font-size:9px;transform:rotate(72deg);">285</div>
<div class="t num" style="left:188.2px;top:188.0px;width:40px;height:12px;line-height:12px;text-align:center;font-size:9px;transform:rotate(-51deg);">307</div>
<div class="t num" style="left:163.7px;top:256.3px;width:40px;height:12px;line-height:12px;text-align:center;font-size:9px;transform:rotate(-62deg);">544</div>
<div class="t num" style="left:156.3px;top:329.8px;width:40px;height:12px;line-height:12px;text-align:center;font-size:9px;transform:rotate(-73deg);">288</div>
<div class="t sm" style="left:176.0px;top:457.8px;width:20px;height:12px;line-height:12px;text-align:center;">17</div>
<div class="t sm" style="left:196.8px;top:485.0px;width:20px;height:12px;line-height:12px;text-align:center;">28</div>
<div class="t sm" style="left:225.0px;top:508.5px;width:20px;height:12px;line-height:12px;text-align:center;">12</div>
<div class="t sm" style="left:249.5px;top:525.0px;width:20px;height:12px;line-height:12px;text-align:center;">36</div>
<div class="t sm" style="left:279.0px;top:535.0px;width:20px;height:12px;line-height:12px;text-align:center;">27</div>
<div class="t sm" style="left:371.0px;top:535.2px;width:20px;height:12px;line-height:12px;text-align:center;">25</div>
<div class="t sm" style="left:399.5px;top:525.2px;width:20px;height:12px;line-height:12px;text-align:center;">27</div>
<div class="t sm" style="left:427.0px;top:508.3px;width:20px;height:12px;line-height:12px;text-align:center;">40</div>
<div class="t sm" style="left:456.8px;top:484.5px;width:20px;height:12px;line-height:12px;text-align:center;">79</div>
<div class="t sm" style="left:470.8px;top:457.0px;width:20px;height:12px;line-height:12px;text-align:center;">16</div>
<div class="t num" style="left:225.0px;top:138.0px;width:60px;height:20px;line-height:9.6px;text-align:center;font-size:9px;transform:rotate(-41deg);">497<br>varieties</div>
<div class="t wid" style="left:275.5px;top:167.6px;">Width<br>equals<br>the number<br>of varieties</div>
<div id="baseline"></div>
</div>
</body></html>
